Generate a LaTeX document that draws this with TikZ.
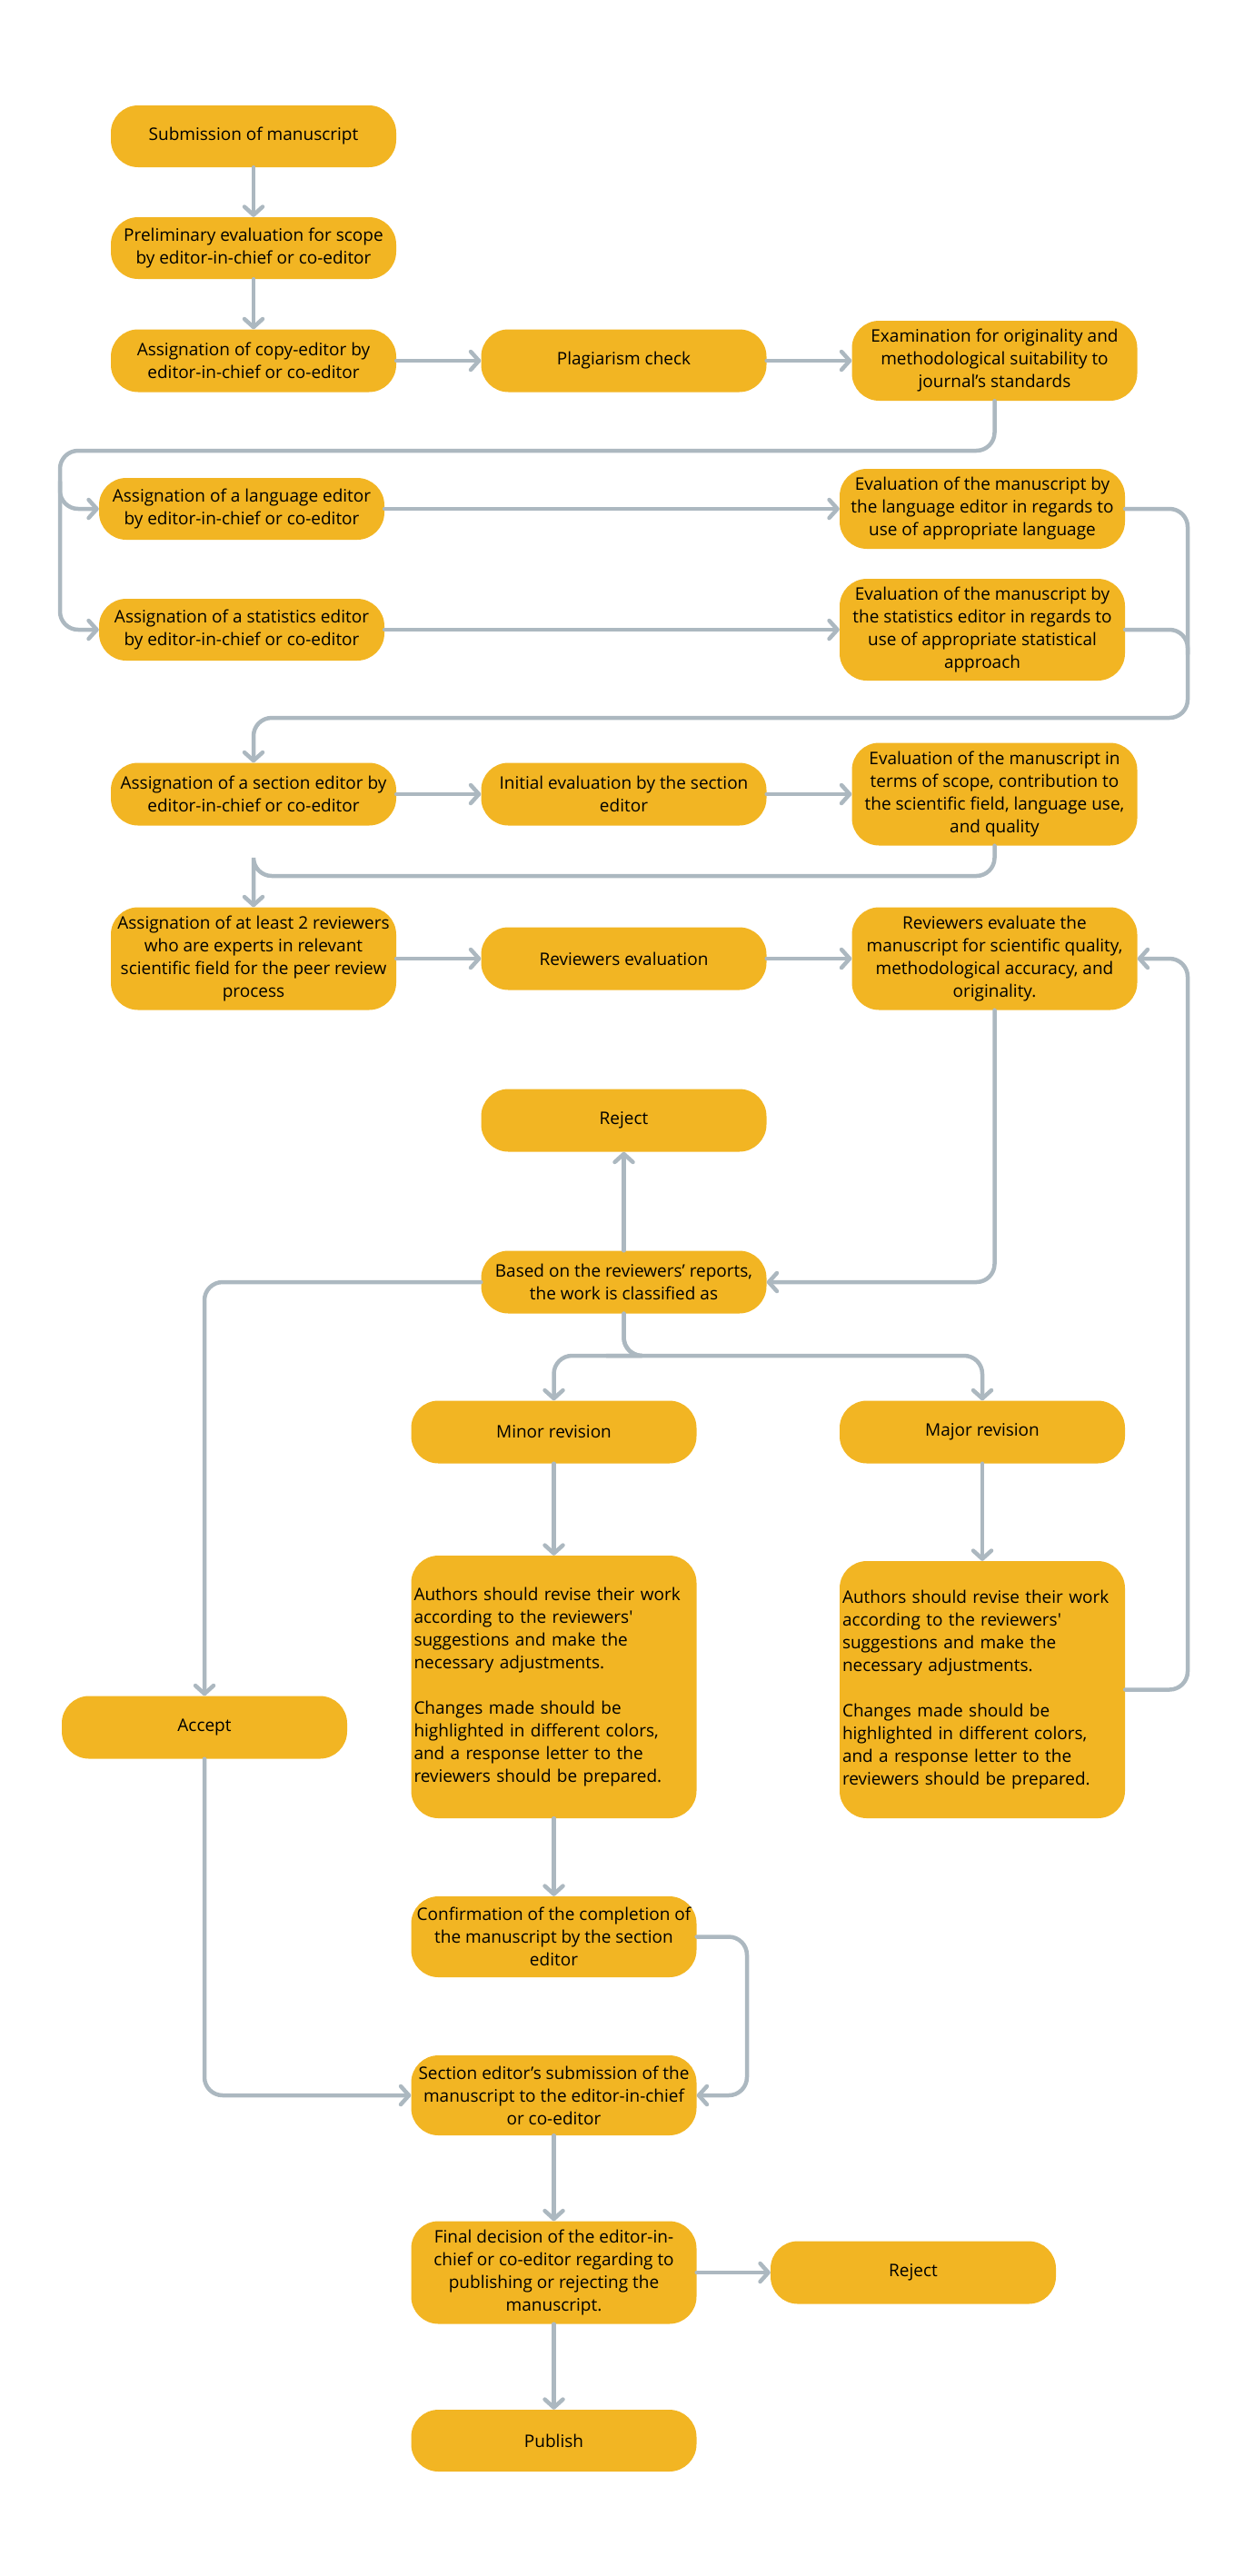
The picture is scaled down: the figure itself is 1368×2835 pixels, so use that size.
\documentclass[tikz,border=0pt]{standalone}
\usepackage{fontspec}
\setmainfont{Open Sans}[Ligatures=TeXOff]
\usetikzlibrary{arrows.meta}
\definecolor{boxc}{RGB}{242,181,35}
\definecolor{linec}{RGB}{172,184,192}
\begin{document}
\begin{tikzpicture}[x=1pt,y=-1pt,
  box/.style={fill=boxc, rounded corners=30pt, minimum width=314pt, inner sep=2pt, align=center,
    font=\fontsize{19}{25}\selectfont, text=black},
  lbox/.style={box, align=left, text width=308pt, inner xsep=3pt},
  conn/.style={draw=linec, line width=4.5pt, rounded corners=20pt, line cap=round,
    -{Straight Barb[length=9pt,width=20pt,round]}},
  plain/.style={draw=linec, line width=4.5pt, rounded corners=20pt, line cap=round}]
\useasboundingbox (0,0) rectangle (1368,2835);

\node[box, minimum height=68pt] (sub) at (279,150) {Submission of manuscript};
\node[box, minimum height=68pt] (pre) at (279,273) {Preliminary evaluation for scope\\by editor-in-chief or co-editor};
\node[box, minimum height=69pt] (copy) at (279,397) {Assignation of copy-editor by\\editor-in-chief or co-editor};
\node[box, minimum height=69pt] (plag) at (686.5,397) {Plagiarism check};
\node[box, minimum height=88pt] (exam) at (1094.5,397) {Examination for originality and\\methodological suitability to\\journal’s standards};

\node[box, minimum height=68pt] (lang) at (266,560) {Assignation of a language editor\\by editor-in-chief or co-editor};
\node[box, minimum height=88pt] (evlang) at (1081,560) {Evaluation of the manuscript by\\the language editor in regards to\\use of appropriate language};
\node[box, minimum height=68pt] (stat) at (266,693) {Assignation of a statistics editor\\by editor-in-chief or co-editor};
\node[box, minimum height=112pt] (evstat) at (1081,693) {Evaluation of the manuscript by\\the statistics editor in regards to\\use of appropriate statistical\\approach};

\node[box, minimum height=69pt] (sec) at (279,874) {Assignation of a section editor by\\editor-in-chief or co-editor};
\node[box, minimum height=69pt] (init) at (686.5,874) {Initial evaluation by the section\\editor};
\node[box, minimum height=113pt] (evscope) at (1094.5,874) {Evaluation of the manuscript in\\terms of scope, contribution to\\the scientific field, language use,\\and quality};

\node[box, minimum height=113pt] (rassign) at (279,1055) {Assignation of at least 2 reviewers\\who are experts in relevant\\scientific field for the peer review\\process};
\node[box, minimum height=69pt] (reval) at (686.5,1055) {Reviewers evaluation};
\node[box, minimum height=113pt] (rqual) at (1094.5,1055) {Reviewers evaluate the\\manuscript for scientific quality,\\methodological accuracy, and\\originality.};

\node[box, minimum height=69pt] (rej1) at (686.5,1233) {Reject};
\node[box, minimum height=69pt] (based) at (686.5,1411) {Based on the reviewers’ reports,\\the work is classified as};
\node[box, minimum height=69pt] (minor) at (609.5,1576) {Minor revision};
\node[box, minimum height=69pt] (major) at (1081,1576) {Major revision};

\node[lbox, minimum height=289pt] (minauth) at (609.5,1856.5) {Authors should revise their work\\according to the reviewers'\\suggestions and make the\\necessary adjustments.\\[25pt]Changes made should be\\highlighted in different colors,\\and a response letter to the\\reviewers should be prepared.};
\node[lbox, minimum height=283pt] (majauth) at (1081,1859.5) {Authors should revise their work\\according to the reviewers'\\suggestions and make the\\necessary adjustments.\\[25pt]Changes made should be\\highlighted in different colors,\\and a response letter to the\\reviewers should be prepared.};

\node[box, minimum height=69pt] (accept) at (225,1901) {Accept};
\node[box, minimum height=89pt] (confirm) at (609.5,2131.5) {Confirmation of the completion of\\the manuscript by the section\\editor};
\node[box, minimum height=88pt] (secsub) at (609.5,2306) {Section editor’s submission of the\\manuscript to the editor-in-chief\\or co-editor};
\node[box, minimum height=113pt] (final) at (609.5,2501) {Final decision of the editor-in-\\chief or co-editor regarding to\\publishing or rejecting the\\manuscript.};
\node[box, minimum height=69pt] (rej2) at (1005,2501) {Reject};
\node[box, minimum height=68pt] (publish) at (609.5,2686) {Publish};

% coordinates
\coordinate (ra) at (66,496);
\coordinate (rs) at (66,530);
\coordinate (rm) at (1307,720);
\coordinate (rb) at (1307,790);
\coordinate (rc) at (279,964);
\coordinate (rr) at (1307,1055);
\coordinate (sp) at (687,1492);
\coordinate (cc) at (822,2306);

% connectors
\draw[conn] (sub) -- (pre);
\draw[conn] (pre) -- (copy);
\draw[conn] (copy) -- (plag);
\draw[conn] (plag) -- (exam);
\draw[conn] (exam.south) |- (ra) |- (stat.west);
\draw[conn] (rs) |- (lang.west);
\draw[conn] (lang) -- (evlang);
\draw[conn] (stat) -- (evstat);
\draw[plain] (evlang.east) -| (rm);
\draw[conn] (evstat.east) -| (rb) -| (sec.north);
\draw[conn] (evscope.south) |- (rc) -| (rassign.north);
\draw[conn] (sec) -- (init);
\draw[conn] (init) -- (evscope);
\draw[conn] (rassign) -- (reval);
\draw[conn] (reval) -- (rqual);
\draw[conn] (rqual.south) |- (based.east);
\draw[conn] (based) -- (rej1);
\draw[conn] (based.west) -| (accept.north);
\draw[conn] (based.south) |- (sp) -| (minor.north);
\draw[conn] (based.south) |- (sp) -| (major.north);
\draw[conn] (minor) -- (minauth);
\draw[conn] (major) -- (majauth);
\draw[conn] (majauth.east) -| (rr) -- (rqual.east);
\draw[conn] (accept.south) |- (secsub.west);
\draw[conn] (minauth) -- (confirm);
\draw[conn] (confirm.east) -| (cc) -- (secsub.east);
\draw[conn] (secsub) -- (final);
\draw[conn] (final) -- (rej2);
\draw[conn] (final) -- (publish);
\end{tikzpicture}
\end{document}
